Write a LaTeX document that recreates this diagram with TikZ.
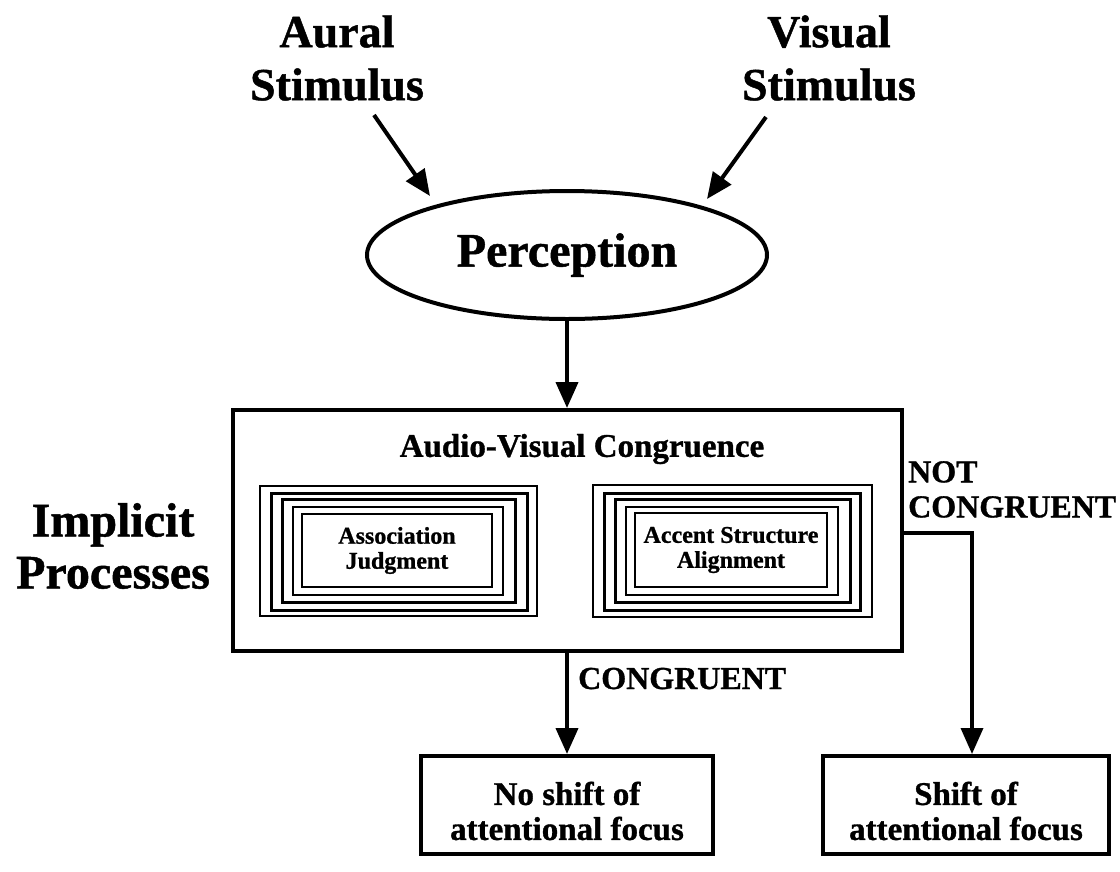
\documentclass[tikz,border=0pt]{standalone}
\usepackage{fontspec}
\setmainfont{Liberation Serif}[BoldFeatures={FakeBold=1}]
\usetikzlibrary{arrows.meta,shapes.geometric}
\begin{document}
\begin{tikzpicture}[x=1pt,y=-1pt,
  lbl/.style={align=center, inner sep=0pt},
  bigtxt/.style={font=\bfseries\fontsize{46}{53}\selectfont},
  sidetxt/.style={font=\bfseries\fontsize{48}{52}\selectfont},
  midtxt/.style={font=\bfseries\fontsize{32}{35}\selectfont},
  smalltxt/.style={font=\bfseries\fontsize{24}{25}\selectfont},
  boxtxt/.style={font=\bfseries\fontsize{33}{35}\selectfont},
  conn/.style={line width=4pt, -{Triangle[length=26pt,width=22pt]}},
  box/.style={draw, line width=4pt, inner sep=0pt, align=center},
  ringA/.style={line width=1.5pt},
  ringB/.style={line width=3pt},
  ringC/.style={line width=2.5pt}]
\useasboundingbox (0,0) rectangle (1120,871);
\fill[white] (0,0) rectangle (1120,871);

% stimuli
\node[lbl, bigtxt] (aural) at (337,58) {Aural\\Stimulus};
\node[lbl, bigtxt] (visual) at (829,58) {Visual\\Stimulus};

% perception
\node[draw, ellipse, line width=4pt, minimum width=400pt, minimum height=128pt, inner sep=0pt,
      font=\bfseries\fontsize{48}{50}\selectfont] (perc) at (567,255) {Perception};

\coordinate (aS) at (374,115);
\coordinate (aT) at (430,196);
\coordinate (vS) at (766,117);
\coordinate (vT) at (707,199);
\draw[conn] (aS) -- (aT);
\draw[conn] (vS) -- (vT);

% big box
\node[box, minimum width=669pt, minimum height=241pt] (big) at (567.5,530.5) {};
\draw[conn] (perc.south) -- (big.north -| perc.south);

\node[lbl, font=\bfseries\fontsize{33}{35}\selectfont] (avc) at (582,449) {Audio-Visual Congruence};

% left nested rings
\draw[ringA] (260,486) rectangle (537,616);
\draw[ringB] (271,493) rectangle (527,610);
\draw[ringB] (282,499) rectangle (515,602);
\draw[ringC] (293,507) rectangle (503,595);
\node[draw, ringC, minimum width=190pt, minimum height=73pt, lbl, smalltxt] (aj) at (397,550.5) {Association\\Judgment};

% right nested rings
\draw[ringA] (593,485) rectangle (872,617);
\draw[ringB] (604,493) rectangle (860,610);
\draw[ringB] (615,499) rectangle (850,602);
\draw[ringC] (626,507) rectangle (838,595);
\node[draw, ringC, minimum width=192pt, minimum height=74pt, lbl, smalltxt] (asa) at (731,550) {Accent Structure\\Alignment};

% side label
\node[lbl, sidetxt] (ip) at (113,546) {Implicit\\Processes};

% bottom boxes
\node[box, minimum width=292pt, minimum height=98pt] (ns) at (567,805) {};
\node[lbl, boxtxt] (nst) at (567,811) {No shift of\\attentional focus};
\node[box, minimum width=286pt, minimum height=98pt] (sh) at (966,805) {};
\node[lbl, boxtxt] (sht) at (966,811) {Shift of\\attentional focus};

% congruent
\draw[conn] (big.south -| ns.north) -- (ns.north);
\node[lbl, midtxt, anchor=base west] (cg) at (578,689) {CONGRUENT};

% not congruent
\coordinate (nc) at (972,533);
\draw[line width=3.5pt, -{Triangle[length=26pt,width=22pt]}] (big.east |- nc) -- (nc) -- (sh.north -| nc);
\node[lbl, midtxt, align=left, anchor=north west] (ncl) at (908,461) {NOT\\CONGRUENT};
\end{tikzpicture}
\end{document}
